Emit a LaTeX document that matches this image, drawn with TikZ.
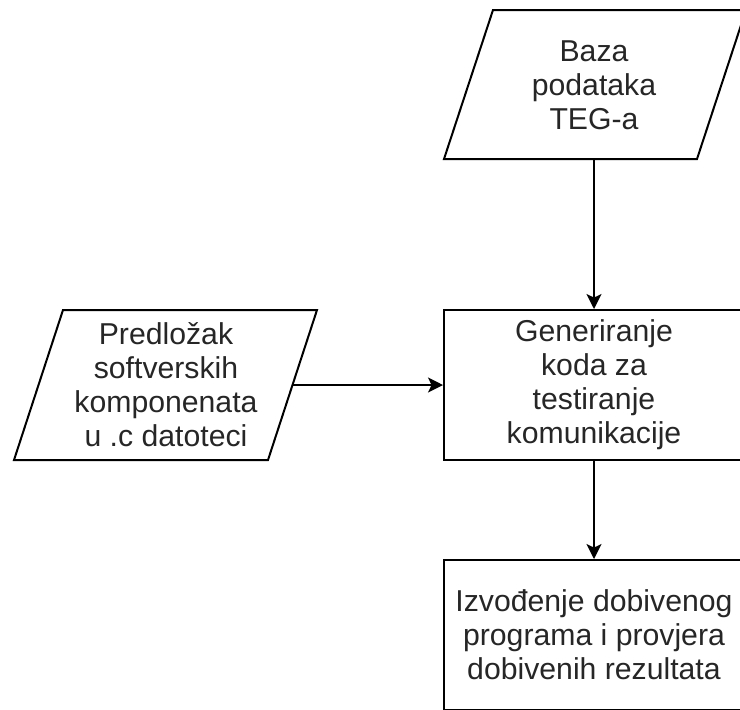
\documentclass[tikz,border=0pt]{standalone}
\usepackage{fontspec}
\setmainfont{Liberation Sans}
\usetikzlibrary{arrows.meta}
\tikzset{
  box/.style={draw=black, line width=1pt, minimum width=150pt, minimum height=75pt, inner sep=0pt, align=center, text=black!85, font=\fontsize{15.1}{17}\selectfont},
  label text/.style={inner sep=0pt, align=center, text=black!85, font=\fontsize{15.1}{17}\selectfont},
  shapeline/.style={draw=black, line width=1pt, line join=miter},
  conn/.style={draw=black, line width=1pt, -{Stealth[length=7.5pt,width=7.5pt,inset=1.8pt]}}
}
\begin{document}
\begin{tikzpicture}[x=0.5pt,y=-0.5pt]
\useasboundingbox (0,0) rectangle (740,709);
\begin{scope}
\clip (0,0) rectangle (740,709);
% top parallelogram
\draw[shapeline] (493,10) -- (746,10) -- (697,159) -- (444,159) -- cycle;
\node[label text] (db) at (594,85) {Baza\\podataka\\TEG-a};
\coordinate (dbS) at (594,159);
% left parallelogram
\draw[shapeline] (63,310) -- (317,310) -- (268,460) -- (14,460) -- cycle;
\node[label text] (tpl) at (166,385) {Predložak\\softverskih\\komponenata\\u .c datoteci};
\coordinate (tplE) at (292.5,385);
% rectangles
\node[box] (gen) at (594,385) {Generiranje\\koda za\\testiranje\\komunikacije};
\node[box] (run) at (594,635) {Izvođenje dobivenog\\programa i provjera\\dobivenih rezultata};
% connectors
\draw[conn] (dbS) -- (gen.north);
\draw[conn] (tplE) -- (gen.west);
\draw[conn] (gen.south) -- (run.north);
\end{scope}
\end{tikzpicture}
\end{document}
